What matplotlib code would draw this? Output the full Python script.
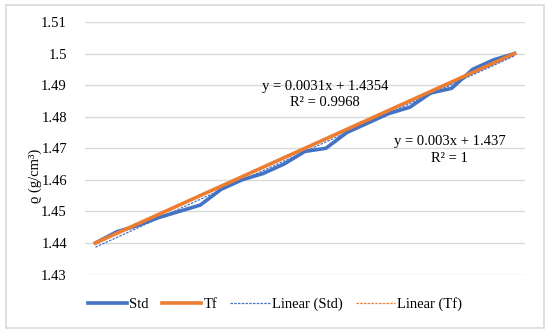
import numpy as np
import matplotlib
matplotlib.use("Agg")
import matplotlib.pyplot as plt
from matplotlib.patches import FancyBboxPatch

plt.rcParams['font.family'] = ['Liberation Serif', 'DejaVu Serif']

x = np.arange(1, 22)
std = [1.440, 1.4435, 1.4455, 1.448, 1.450, 1.452, 1.457, 1.460, 1.462, 1.465,
       1.469, 1.470, 1.475, 1.478, 1.481, 1.483, 1.4875, 1.489, 1.495, 1.498, 1.500]
tf = [1.440, 1.443, 1.446, 1.449, 1.452, 1.455, 1.458, 1.461, 1.464, 1.467,
      1.470, 1.473, 1.476, 1.479, 1.482, 1.485, 1.488, 1.491, 1.494, 1.497, 1.500]
yticks = [1.43, 1.44, 1.45, 1.46, 1.47, 1.48, 1.49, 1.50, 1.51]
ytick_labels = ['1.43', '1.44', '1.45', '1.46', '1.47', '1.48', '1.49', '1.5', '1.51']

blue = '#4472C4'
orange = '#ED7D31'
fs = 10.5

fig = plt.figure(figsize=(5.5, 3.33), dpi=100)
ax = fig.add_axes([85/550, 1 - 274.5/333, 440/550, 252.5/333])

# chart border
border = FancyBboxPatch((6/550, 5/333), 538/550, 323/333, boxstyle='square,pad=0',
                        transform=fig.transFigure, fill=False, edgecolor='#D9D9D9', lw=1.2)
fig.patches.append(border)

ax.plot(x, std, color=blue, lw=2.6, label='Std')
ax.plot(x, tf, color=orange, lw=2.6, label='Tf')
ps = np.polyfit(x, std, 1)
pt = np.polyfit(x, tf, 1)
ax.plot(x, np.polyval(ps, x), color=blue, lw=0.9, ls=(0, (2, 1)), label='Linear (Std)')
ax.plot(x, np.polyval(pt, x), color=orange, lw=0.9, ls=(0, (2, 1)), label='Linear (Tf)')

ax.set_xlim(0.5, 21.5)
ax.set_ylim(1.43, 1.51)
ax.set_yticks(yticks)
ax.set_yticklabels(ytick_labels, fontsize=fs)
ax.set_xticks([])
ax.grid(axis='y', color='#D9D9D9', lw=1)
ax.set_axisbelow(True)
for s in ax.spines.values():
    s.set_visible(False)
ax.tick_params(axis='y', length=0, pad=13)

ax.set_ylabel('ϱ (g/cm³)', fontsize=fs)
ax.yaxis.set_label_coords(-0.098, 0.39)

ax.text(11.95, 1.487, 'y = 0.0031x + 1.4354\nR² = 0.9968', ha='center', va='center',
        fontsize=fs, linespacing=1.35)
ax.text(17.9, 1.4694, 'y = 0.003x + 1.437\nR² = 1', ha='center', va='center',
        fontsize=fs, linespacing=1.35)

fig.legend(loc='center', bbox_to_anchor=(0.5, 1 - 304/333), ncol=4, frameon=False,
           fontsize=fs, handlelength=2.7, columnspacing=0.9, handletextpad=0.15)

fig.savefig('out.png', dpi=100)
